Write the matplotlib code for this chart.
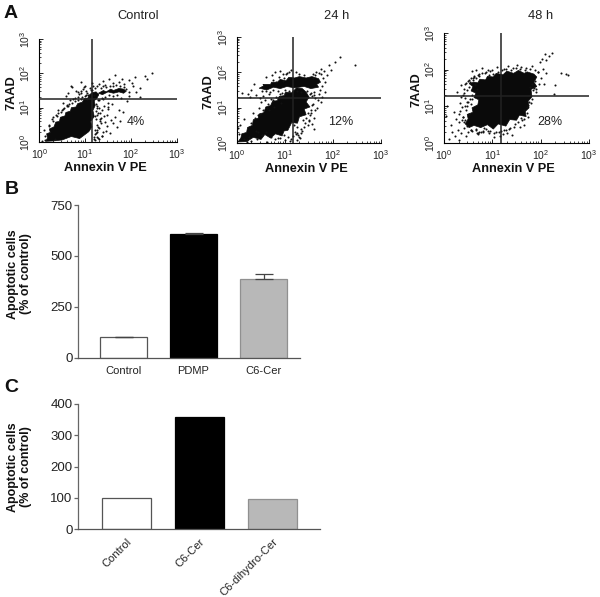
import matplotlib
matplotlib.use("Agg")
import matplotlib.pyplot as plt
from matplotlib.transforms import ScaledTranslation

plt.rcParams['font.family'] = ['Liberation Sans', 'DejaVu Sans']

W, H = 600, 597

# flow plots: log10 values
# dense regions are given as outlines, the loose dots one by one
ctrl_core_x = [.14, .18, .16, .24, .22, .32, .36, .44, .46, .56, .58, .68, .70, .80, .84, .94, .98, 1.06, 1.10, 1.16, 1.24, 1.30, 1.26, 1.20, 1.22, 1.17, 1.20, 1.12, 1.15, 1.08, 1.00, .88, .70, .50, .30]
ctrl_core_y = [.02, .12, .24, .28, .38, .44, .58, .60, .72, .76, .86, .90, 1.00, 1.02, 1.12, 1.16, 1.26, 1.28, 1.38, 1.44, 1.46, 1.38, 1.28, 1.20, 1.06, .92, .74, .60, .44, .30, .22, .10, .16, .06, .03]
ctrl_band_x = [1.29, 1.40, 1.46, 1.56, 1.62, 1.74, 1.84, 1.90, 1.84, 1.74, 1.62, 1.50, 1.38]
ctrl_band_y = [1.42, 1.50, 1.46, 1.54, 1.50, 1.56, 1.54, 1.48, 1.42, 1.46, 1.42, 1.46, 1.38]
ctrl_dots_x = [0.72, 0.81, 0.58, 0.66, 0.90, 0.95, 1.02, 1.08, 0.63, 0.70, 0.86, 0.99, 1.12, 0.77, 0.52, 0.60,
               1.25, 1.31, 1.38, 1.44, 1.52, 1.60, 1.66, 1.73, 1.80, 1.86, 1.95, 2.02, 2.10, 2.20, 2.30, 2.47, 2.20, 1.40, 1.50, 1.62, 1.78, 1.92,
               1.24, 1.30, 1.36, 1.28, 1.42, 1.50, 1.58, 1.48, 1.66, 1.74, 1.82, 1.56, 1.34, 1.44, 1.25, 1.31, 1.39, 1.47, 1.60, 1.70, 1.22, 1.28,
               1.36, 1.26, 1.33, 1.45, 1.54, 1.76, 0.05, 0.12, 0.10, 0.30, 0.22, 0.36, 0.48, 0.28, 0.40, 0.55, 0.34, 0.62, 0.74, 1.25, 0.85, 1.05,
               1.19, 1.24, 1.21, 1.29, 1.33, 1.27, 1.37, 1.22, 1.30, 1.41, 1.20, 1.26, 1.50, 2.12, 1.96, 2.05, 2.36,
               1.00, 1.04, .94, .90, 1.10, 1.14, 1.06, .98, .84, 1.18, 1.22, 1.16, 1.34, 1.40, 1.46, 1.54, 1.60, 1.68, 1.76, 1.84, 1.36, 1.44, 1.52, 1.70,
               1.90, 1.96, 1.26, 1.30, 1.24, 1.34, 1.28, 1.22, 1.32, 1.26, 1.24, 1.20, .22, .30, .38, .50, .60, .72, .84, 1.02, .12, .40, .52, .64, .78, .92, .90]
ctrl_dots_y = [1.61, 1.50, 1.35, 1.22, 1.74, 1.55, 1.48, 1.30, 1.44, 1.64, 1.40, 1.63, 1.52, 1.28, 1.14, 1.08,
               1.62, 1.70, 1.78, 1.66, 1.83, 1.72, 1.94, 1.76, 1.84, 1.68, 1.80, 1.72, 1.88, 1.58, 1.92, 2.02, 1.30, 1.25, 1.14, 1.34, 1.28, 1.20,
               1.12, 1.00, 0.92, 0.84, 1.06, 0.97, 1.10, 0.80, 0.72, 0.94, 0.86, 0.65, 0.70, 0.58, 0.50, 0.40, 0.30, 0.48, 0.55, 0.44, 0.22, 0.12,
               0.18, 0.34, 0.62, 0.32, 0.26, 0.62, 0.04, 0.06, 0.34, 0.60, 0.48, 0.80, 0.86, 0.68, 0.92, 1.00, 0.10, 1.06, 1.24, 0.78, 1.30, 1.26,
               1.38, 0.90, 0.76, 1.21, 0.66, 0.28, 0.18, 0.06, 0.08, 0.75, 0.10, 0.16, 1.02, 1.45, 1.34, 1.62, 1.84,
               1.34, 1.42, 1.30, 1.50, 1.58, 1.52, 1.36, 1.60, 1.46, 1.64, 1.58, 1.72, 1.58, 1.64, 1.60, 1.64, 1.62, 1.66, 1.62, 1.60, 1.28, 1.32, 1.38, 1.36,
               1.54, 1.46, 1.06, 1.22, .68, .56, .44, .34, .84, .98, .26, .14, .50, .72, .76, .94, 1.04, 1.14, 1.22, 1.36, .18, .84, .96, 1.10, 1.18, 1.24, 1.42]

h24_core_x = [.02, .08, .10, .20, .22, .32, .34, .44, .46, .56, .60, .70, .74, .84, .88, .98, 1.02, 1.14, 1.24, 1.36, 1.44, 1.50, 1.44, 1.52, 1.40, 1.44, 1.30, 1.26, 1.14, 1.06, .98, .94, .80, .70, .58, .50, .34, .20]
h24_core_y = [.03, .14, .26, .30, .44, .50, .66, .70, .82, .86, 1.02, 1.06, 1.18, 1.20, 1.32, 1.34, 1.44, 1.42, 1.56, 1.54, 1.44, 1.30, 1.16, 1.02, .96, .80, .74, .56, .58, .36, .34, .20, .26, .14, .24, .10, .16, .04]
h24_band_x = [.46, .56, .54, .70, .72, .84, .90, 1.02, 1.08, 1.20, 1.30, 1.44, 1.56, 1.70, 1.74, 1.66, 1.70, 1.54, 1.40, 1.20, 1.04, .90, .76, .62, .50]
h24_band_y = [1.55, 1.62, 1.66, 1.66, 1.72, 1.72, 1.80, 1.76, 1.86, 1.84, 1.88, 1.84, 1.88, 1.82, 1.72, 1.66, 1.58, 1.54, 1.60, 1.56, 1.60, 1.54, 1.58, 1.50, 1.54]
h24_dots_x = [0.10, 0.22, 0.30, 0.36, 0.28, 0.40, 0.50, 0.58, 0.45, 0.62, 0.70, 0.78, 0.85, 0.92, 0.55, 0.66, 0.74, 0.88, 0.96, 0.34, 0.44,
              0.60, 0.72, 0.82, 0.95, 1.04, 0.80, 0.98, 1.08, 0.48, 0.66, 1.22, 1.30, 1.40, 1.02, 1.12, 0.90,
              1.58, 1.64, 1.70, 1.76, 1.82, 1.88, 1.60, 1.68, 1.56, 1.74, 1.62, 1.78, 1.83, 1.92, 1.95, 2.04, 2.14, 2.46, 1.47, 1.58, 1.66, 1.53, 1.60,
              1.42, 1.50, 1.34, 1.26, 1.18, 1.44, 1.36, 1.28, 1.20, 1.12, 1.24, 1.16, 1.32, 1.40, 1.10, 1.06, 1.26, 0.14, 0.06, 0.04, 0.20, 0.70, 0.80,
              0.90, 1.00, 0.30, 0.42, 0.62, 0.20, 0.02, 1.48, 1.55, 1.70, 1.38, 1.62,
              .52, .60, .68, .76, .86, .94, 1.00, 1.08, 1.16, 1.26, 1.34, 1.46, 1.52, 1.60, 1.72, 1.78, 1.84, 1.80, 1.74, 1.58, 1.62, 1.54, 1.56,
              .30, .38, .48, .54, .64, .74, .82, .90, 1.00, .24, .14, .40, .52, .60, 1.56, 1.60, 1.48, 1.54, 1.50, 1.34, 1.30, 1.22, .98, .86, .44]
h24_dots_y = [1.42, 1.38, 1.50, 1.66, 1.30, 1.35, 1.16, 1.22, 0.98, 1.00, 1.24, 1.02, 1.28, 1.12, 1.34, 1.40, 1.78, 1.86, 1.96, 0.86, 0.80,
              1.88, 1.92, 1.72, 1.76, 1.98, 2.02, 1.84, 2.00, 1.26, 0.92, 2.02, 1.96, 1.92, 1.94, 2.08, 2.04,
              1.94, 2.02, 1.98, 2.10, 2.04, 1.92, 1.36, 1.22, 1.08, 1.16, 0.92, 1.30, 1.44, 2.20, 2.06, 2.30, 2.42, 2.20, 1.30, 1.10, 0.98, 0.78, 0.72,
              0.56, 0.62, 0.40, 0.46, 0.50, 0.70, 0.34, 0.22, 0.30, 0.12, 0.08, 0.20, 0.14, 0.44, 0.06, 0.18, 0.28, 0.68, 0.50, 0.26, 0.08, 0.16, 0.10,
              0.14, 0.08, 0.06, 0.10, 0.04, 0.02, 0.42, 0.86, 0.94, 1.40, 0.66, 1.28,
              1.46, 1.48, 1.44, 1.50, 1.46, 1.42, 1.50, 1.46, 1.48, 1.46, 1.44, 1.48, 1.40, 1.44, 1.50, 1.62, 1.74, 1.84, 1.94, 1.84, 1.92, 1.42, 1.34,
              .58, .70, .82, .92, 1.10, 1.22, 1.30, 1.38, 1.42, .18, .10, .34, .24, .30, .54, .40, .50, .86, .64, .28, .18, .26, .24, .14, .30]

h48_core_x = [.44, .50, .48, .60, .58, .70, .72, .62, .66, .56, .60, .52, .62, .70, .74, .86, .90, 1.02, 1.08, 1.22, 1.30, 1.44, 1.54, 1.66, 1.72, 1.86, 1.92, 1.86, 1.92, 1.80, 1.82, 1.74, 1.76, 1.68, 1.70, 1.56, 1.50, 1.36, 1.28, 1.12, 1.02, .90, .76, .62, .52]
h48_core_y = [.52, .66, .78, .84, .96, 1.04, 1.18, 1.24, 1.36, 1.42, 1.54, 1.62, 1.66, 1.64, 1.74, 1.72, 1.82, 1.80, 1.90, 1.86, 1.96, 1.90, 1.98, 1.90, 1.94, 1.88, 1.80, 1.66, 1.54, 1.46, 1.26, 1.14, .96, .86, .72, .76, .62, .64, .46, .52, .38, .50, .42, .48, .42]
h48_dots_x = [0.10, 0.16, 0.22, 0.28, 0.14, 0.30, 0.36, 0.42, 0.50, 0.24, 0.32, 0.40, 0.46, 0.34, 0.44, 0.38, 0.48, 0.58, 0.66, 0.78, 0.90,
              0.60, 0.72, 0.84, 0.96, 0.06, 0.04, 0.20, 0.26, 0.55, 0.35, 0.68, 0.46, 0.42, 0.52, 0.62, 0.40, 0.48, 0.56, 0.66, 0.70, 0.80,
              1.00, 1.10, 1.24, 1.32, 1.42, 1.52, 1.60, 1.70, 1.82, 1.98, 2.02, 2.08, 2.12, 2.18, 2.24, 2.04, 2.10, 1.94, 2.00, 2.42, 2.52, 2.56, 2.30, 2.28,
              1.78, 1.84, 1.90, 1.82, 1.76, 1.72, 1.66, 1.74, 1.62, 1.54, 1.46, 1.36, 1.28, 1.18, 1.08, 0.96, 0.86, 0.76, 1.04, 1.22,
              0.70, 0.64, 0.58, 0.74, 0.82, 0.94, 1.16, 1.30, 1.40, 1.58, 1.65, 1.88, 1.96, 2.06,
              .44, .50, .54, .58, .36, .42, .48, .52, .64, .54, .60, .66, .68, .44, .50, .56, .62, .72, .78, .86, .46, .52, .40, .44,
              .94, 1.02, 1.12, 1.20, 1.28, 1.38, 1.48, 1.58, 1.68, 1.78, 1.88, 1.94, 1.82, 1.86, 1.90, 1.78, 1.74, 1.80, 1.72, 1.66, 1.60,
              1.44, 1.34, 1.24, 1.14, 1.04, .92, .80, .70, .56, .48, .38, .34, .42, .30, .58, .66, .72]
h48_dots_y = [0.12, 0.30, 0.18, 0.36, 0.48, 0.08, 0.26, 0.40, 0.30, 0.66, 0.56, 0.70, 0.20, 1.10, 1.22, 0.98, 1.00, 1.96, 2.00, 2.04, 1.98,
              1.78, 1.84, 1.90, 1.96, 1.00, 0.74, 0.84, 1.40, 0.36, 1.58, 0.28, 1.64, 1.48, 1.72, 1.80, 1.30, 1.12, 1.06, 0.38, 0.24, 0.32,
              2.00, 2.06, 2.02, 2.10, 2.04, 2.12, 2.06, 2.04, 2.10, 2.20, 2.30, 2.42, 2.26, 2.36, 2.46, 2.02, 1.90, 1.95, 1.76, 1.92, 1.88, 1.86, 1.58, 1.34,
              1.54, 1.44, 1.48, 1.20, 1.12, 0.98, 0.90, 0.72, 0.62, 0.58, 0.52, 0.40, 0.36, 0.32, 0.30, 0.34, 0.38, 0.30, 0.16, 0.24,
              1.86, 1.60, 1.20, 0.46, 0.40, 0.26, 0.20, 0.28, 0.22, 0.44, 0.50, 1.70, 1.60, 1.62,
              1.02, 1.12, 1.20, 1.30, 1.26, 1.36, 1.44, 1.52, 1.58, 1.66, 1.72, 1.78, 1.48, 1.60, 1.68, 1.76, 1.84, 1.88, 1.92, 1.94, .90, .80, .72, .62,
              1.86, 1.88, 1.94, 1.98, 2.02, 1.98, 2.04, 2.02, 2.00, 2.02, 1.98, 1.94, 1.62, 1.50, 1.40, 1.30, 1.04, 1.08, .82, .66, .68,
              .44, .38, .36, .30, .26, .34, .30, .28, .36, .46, .64, .88, .58, .78, .32, .36, .30]

# quadrant gates, log10
gate_x = [1.157, 1.17, 1.17]
gate_y = [1.244, 1.27, 1.27]
flow_titles = ['Control', '24 h', '48 h']
flow_pcts = ['4%', '12%', '28%']

# bars
b_names = ['Control', 'PDMP', 'C6-Cer']
b_vals = [100, 610, 385]
b_errs = [3, 4, 27]
c_names = ['Control', 'C6-Cer', 'C6-dihydro-Cer']
c_vals = [100, 357, 98]

bar_colors = ['white', 'black', '#b8b8b8']
edge_colors = ['#555555', 'black', '#909090']

fig = plt.figure(figsize=(W / 100, H / 100), dpi=100)


def px_axes(left, top, right, bottom):
    return fig.add_axes([left / W, 1 - bottom / H, (right - left) / W, (bottom - top) / H])


def px_text(x, y, s, **kw):
    kw.setdefault('ha', 'center')
    kw.setdefault('va', 'center')
    fig.text(x / W, 1 - y / H, s, **kw)


def flow_panel(box, core_list, dots, gx, gy, title, title_x, pct, pct_pos):
    ax = px_axes(*box)
    ax.set_xscale('log')
    ax.set_yscale('log')
    ax.set_xlim(1, 1000)
    ax.set_ylim(1, 1000)
    for cx, cy in core_list:
        ax.fill([10 ** v for v in cx], [10 ** v for v in cy], color='#0a0a0a', lw=0.5, zorder=2)
    ax.scatter([10 ** v for v in dots[0]], [10 ** v for v in dots[1]], s=2.2, color='#111111', lw=0, zorder=2)
    ax.plot([10 ** gx, 10 ** gx], [1, 1000], color='#222222', lw=1.1, zorder=3)
    ax.plot([1, 1000], [10 ** gy, 10 ** gy], color='#222222', lw=1.1, zorder=3)
    ax.spines['top'].set_visible(False)
    ax.spines['right'].set_visible(False)
    ax.tick_params(which='major', direction='in', length=3, width=0.7, labelsize=7.5, colors='#222222')
    ax.tick_params(which='minor', direction='in', length=1.5, width=0.5)
    ax.tick_params(axis='x', which='major', pad=4)
    ax.tick_params(axis='y', which='major', pad=5, labelrotation=90)
    for t in ax.get_yticklabels():
        t.set_va('center')
    ax.patch.set_alpha(0)
    cx = (box[0] + box[2]) / 2
    px_text(cx - 3, box[3] + 26, 'Annexin V PE', fontsize=9.2, fontweight='bold', color='#111111')
    px_text(box[0] - 28, (box[1] + box[3]) / 2 + 2, '7AAD', fontsize=9.2, fontweight='bold', rotation=90, color='#111111')
    px_text(title_x, 16, title, fontsize=9.3, color='#222222')
    px_text(pct_pos[0], pct_pos[1], pct, fontsize=9, color='#222222')


flow_panel((39.3, 39, 176.7, 142), [(ctrl_core_x, ctrl_core_y), (ctrl_band_x, ctrl_band_y)],
           (ctrl_dots_x, ctrl_dots_y), gate_x[0], gate_y[0], flow_titles[0], 138, flow_pcts[0], (136, 122))
flow_panel((237, 37, 381, 143), [(h24_core_x, h24_core_y), (h24_band_x, h24_band_y)],
           (h24_dots_x, h24_dots_y), gate_x[1], gate_y[1], flow_titles[1], 337, flow_pcts[1], (341, 122))
flow_panel((444, 33, 589, 143), [(h48_core_x, h48_core_y)],
           (h48_dots_x, h48_dots_y), gate_x[2], gate_y[2], flow_titles[2], 541, flow_pcts[2], (550, 122))


def style_bar_axes(ax):
    ax.spines['top'].set_visible(False)
    ax.spines['right'].set_visible(False)
    ax.spines['left'].set_color('#666666')
    ax.spines['bottom'].set_color('#555555')
    ax.spines['left'].set_linewidth(0.9)
    ax.spines['bottom'].set_linewidth(0.9)
    ax.patch.set_alpha(0)


# panel B
ax_b = px_axes(78, 205, 300, 357.7)
ax_b.bar(range(3), b_vals, width=0.67, color=bar_colors, edgecolor=edge_colors, linewidth=0.9)
ax_b.errorbar(range(3), b_vals, yerr=[[0, 0, 0], b_errs], fmt='none', ecolor='#444444', elinewidth=0.9, capsize=6.5, capthick=0.9)
ax_b.set_xlim(-0.65, 2.52)
ax_b.set_ylim(0, 750)
ax_b.set_yticks([0, 250, 500, 750])
ax_b.set_xticks(range(3))
ax_b.set_xticklabels(b_names)
ax_b.tick_params(axis='y', labelsize=9.5, length=3, width=0.9, color='#666666', labelcolor='#222222', pad=1)
ax_b.tick_params(axis='x', labelsize=8, length=0, labelcolor='#222222', pad=6)
style_bar_axes(ax_b)
px_text(19.5, 274, 'Apoptotic cells\n(% of control)', fontsize=9, fontweight='bold', rotation=90, linespacing=1.12, color='#111111')

# panel C
ax_c = px_axes(78, 404, 320, 529.3)
ax_c.bar(range(3), c_vals, width=0.67, color=bar_colors, edgecolor=edge_colors, linewidth=0.9)
ax_c.set_xlim(-0.664, 2.65)
ax_c.set_ylim(0, 400)
ax_c.set_yticks([0, 100, 200, 300, 400])
ax_c.set_xticks(range(3))
ax_c.set_xticklabels(c_names, rotation=45, ha='right', rotation_mode='anchor')
shift = ScaledTranslation(4 / 72, 0, fig.dpi_scale_trans)
for t in ax_c.get_xticklabels():
    t.set_transform(t.get_transform() + shift)
ax_c.tick_params(axis='y', labelsize=9.5, length=3, width=0.9, color='#666666', labelcolor='#222222', pad=1)
ax_c.tick_params(axis='x', labelsize=8, length=0, labelcolor='#222222', pad=5)
style_bar_axes(ax_c)
px_text(19.5, 467, 'Apoptotic cells\n(% of control)', fontsize=9, fontweight='bold', rotation=90, linespacing=1.12, color='#111111')

# panel letters
px_text(11, 13, 'A', fontsize=14, fontweight='bold', color='#111111')
px_text(12, 190, 'B', fontsize=14, fontweight='bold', color='#111111')
px_text(11, 388, 'C', fontsize=14, fontweight='bold', color='#111111')

fig.savefig('out.png', dpi=100)
